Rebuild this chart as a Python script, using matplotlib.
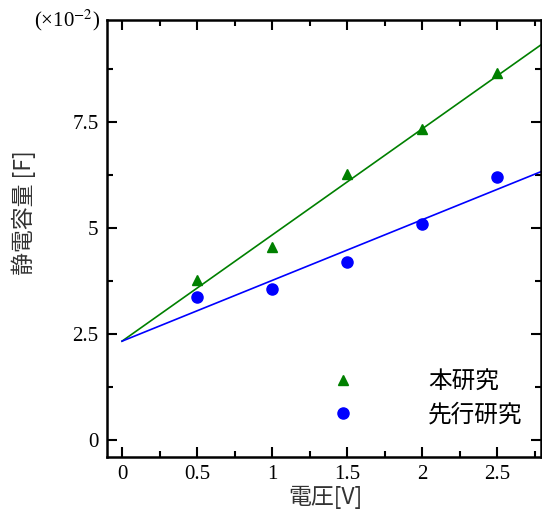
import matplotlib
matplotlib.use("Agg")
import matplotlib.pyplot as plt
from matplotlib.ticker import MultipleLocator

plt.rcParams['mathtext.fontset'] = 'stix'

voltage = [0.5, 1.0, 1.5, 2.0, 2.5]
this_study = [3.77, 4.55, 6.27, 7.33, 8.66]
prior_study = [3.37, 3.56, 4.20, 5.09, 6.20]
fit_x = [0.0, 2.8]
fit_this = [2.33, 9.34]
fit_prior = [2.33, 6.34]
labels = ['本研究', '先行研究']
xticks = [0, 0.5, 1, 1.5, 2, 2.5]
xticklabels = ['0', '0.5', '1', '1.5', '2', '2.5']
yticks = [0, 2.5, 5, 7.5]
yticklabels = ['0', '2.5', '5', '7.5']

cjk = ['Noto Sans CJK JP', 'DejaVu Sans']
serif = 'Liberation Serif'

fig = plt.figure(figsize=(5.42, 5.13), dpi=100)
ax = fig.add_axes([107/542, 1-457/513, (541-107)/542, (457-20)/513])

green = '#008000'
blue = '#0000ff'
ax.plot(fit_x, fit_this, color=green, lw=1.2, zorder=2)
ax.plot(fit_x, fit_prior, color=blue, lw=1.2, zorder=2)
h1, = ax.plot(voltage, this_study, '^', color=green, ms=7, ls='none', label=labels[0], zorder=3)
h2, = ax.plot(voltage, prior_study, 'o', color=blue, ms=8, ls='none', label=labels[1], zorder=3)

ax.set_xlim(-0.1, 2.79)
ax.set_ylim(-0.4, 9.9)
ax.set_xticks(xticks)
ax.set_xticklabels(xticklabels, fontfamily=serif, fontsize=15)
ax.set_yticks(yticks)
ax.set_yticklabels(yticklabels, fontfamily=serif, fontsize=15)
ax.xaxis.set_minor_locator(MultipleLocator(0.25))
ax.yaxis.set_minor_locator(MultipleLocator(1.25))
ax.tick_params(which='both', direction='in', top=True, right=True, width=1.5)
ax.tick_params(which='major', length=7, pad=6)
ax.tick_params(which='minor', length=4)
for s in ax.spines.values():
    s.set_linewidth(1.8)

fig.text(325/542, 1-497/513, '電圧[V]', family=cjk, fontsize=16.5, ha='center', va='center', color='#333333')
fig.text(24/542, 1-213/513, '静電容量 [F]', family=cjk, fontsize=16.5, ha='center', va='center', rotation=90, color='#333333')
fig.text(100/542, 1-20/513, '(×10$^{-2}$)', fontfamily=serif, fontsize=15, ha='right', va='center')

leg = ax.legend(handles=[h1, h2], loc='lower left', bbox_to_anchor=(0.44, 0.021),
                frameon=False, prop={'family': cjk, 'size': 17},
                handletextpad=2.6, labelspacing=0.42)

fig.savefig('out.png', dpi=100)
